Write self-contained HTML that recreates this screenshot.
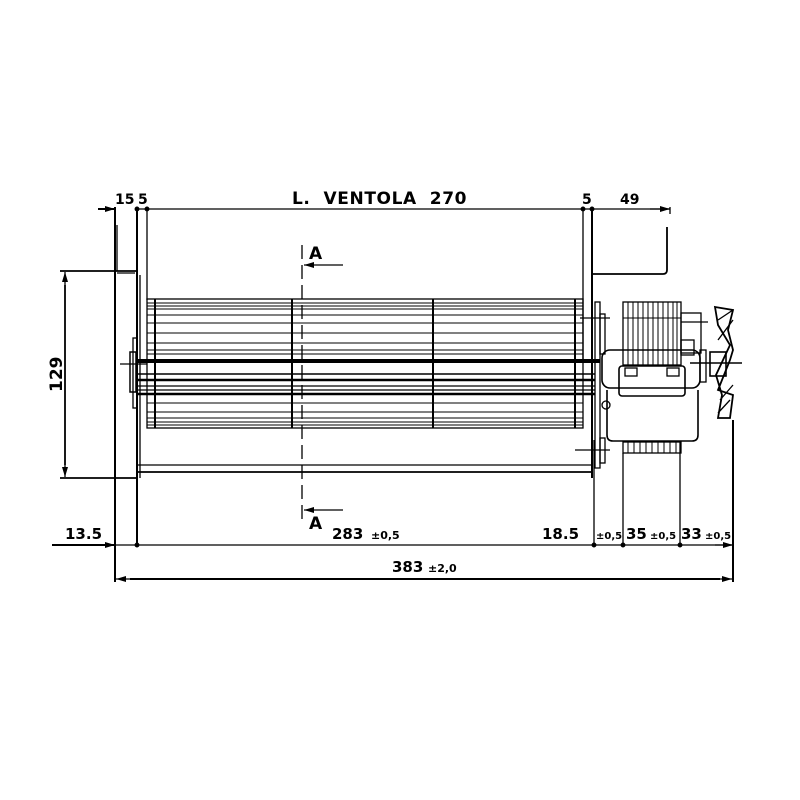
<!DOCTYPE html>
<html><head><meta charset="utf-8"><style>
html,body{margin:0;padding:0;background:#fff}
svg{display:block}
text{font-family:"DejaVu Sans","Liberation Sans",sans-serif;font-weight:bold;fill:#000}
</style></head><body>
<svg width="800" height="800" viewBox="0 0 800 800" xmlns="http://www.w3.org/2000/svg">
<defs>
<marker id="ar" markerWidth="10" markerHeight="6" refX="10" refY="3" orient="auto" markerUnits="userSpaceOnUse"><path d="M0,0 L10,3 L0,6 Z" fill="#000"/></marker>
</defs>
<g stroke="#000" fill="none" stroke-width="1.3">
<line x1="137" y1="209" x2="670" y2="209"/>
<line x1="98" y1="209" x2="115" y2="209" stroke-width="2" marker-end="url(#ar)"/>
<line x1="650" y1="209" x2="670" y2="209" marker-end="url(#ar)"/>
<line x1="670" y1="207" x2="670" y2="214"/>
<line x1="115" y1="207" x2="115" y2="582" stroke-width="2"/>
<line x1="137" y1="207" x2="137" y2="547" stroke-width="2"/>
<line x1="147" y1="209" x2="147" y2="300"/>
<line x1="117" y1="225" x2="117" y2="271"/>
<line x1="60" y1="271" x2="137" y2="271" stroke-width="1.8"/>
<line x1="60" y1="478" x2="137" y2="478" stroke-width="1.8"/>
<line x1="117" y1="273" x2="135" y2="273"/>
<line x1="65" y1="285" x2="65" y2="465" stroke-width="1.8"/>
<line x1="65" y1="285" x2="65" y2="272" marker-end="url(#ar)"/>
<line x1="65" y1="465" x2="65" y2="477" marker-end="url(#ar)"/>
<line x1="140" y1="275" x2="140" y2="478"/>
<line x1="583" y1="209" x2="583" y2="360"/>
<line x1="592" y1="209" x2="592" y2="478" stroke-width="2"/>
<circle cx="583" cy="209" r="1.8" fill="#000"/>
<circle cx="592" cy="209" r="1.8" fill="#000"/>
<circle cx="137" cy="209" r="1.8" fill="#000"/>
<circle cx="147" cy="209" r="1.8" fill="#000"/>
<path d="M592,274 L663,274 Q667,274 667,270 L667,227" stroke-width="1.8"/>
<rect x="147" y="299" width="436" height="129"/>
<g stroke-width="1">
<line x1="147" y1="303" x2="583" y2="303"/><line x1="147" y1="306" x2="583" y2="306"/>
<line x1="147" y1="309" x2="583" y2="309"/><line x1="147" y1="315" x2="583" y2="315"/>
<line x1="147" y1="323" x2="583" y2="323"/><line x1="147" y1="333" x2="583" y2="333"/>
<line x1="147" y1="343" x2="583" y2="343"/><line x1="147" y1="350" x2="583" y2="350"/>
<line x1="147" y1="354" x2="583" y2="354"/>
<line x1="147" y1="403" x2="583" y2="403"/><line x1="147" y1="412" x2="583" y2="412"/>
<line x1="147" y1="418" x2="583" y2="418"/><line x1="147" y1="422" x2="583" y2="422"/>
<line x1="147" y1="425" x2="583" y2="425"/>
</g>
<line x1="137" y1="361" x2="600" y2="361" stroke-width="4"/>
<line x1="137" y1="374" x2="595" y2="374" stroke-width="1.5"/>
<line x1="137" y1="380" x2="595" y2="380" stroke-width="2.5"/>
<line x1="137" y1="386" x2="595" y2="386"/>
<line x1="137" y1="390" x2="595" y2="390"/>
<line x1="137" y1="394" x2="595" y2="394" stroke-width="2.5"/>
<line x1="155" y1="299" x2="155" y2="428" stroke-width="2"/>
<line x1="292" y1="299" x2="292" y2="428" stroke-width="2"/>
<line x1="433" y1="299" x2="433" y2="428" stroke-width="2"/>
<line x1="575" y1="299" x2="575" y2="428" stroke-width="2"/>
<rect x="130" y="352" width="6" height="40" stroke-width="1.5"/>
<rect x="133" y="338" width="4" height="70"/>
<line x1="120" y1="364" x2="147" y2="364"/>
<line x1="137" y1="465" x2="592" y2="465"/>
<line x1="137" y1="472" x2="592" y2="472" stroke-width="1.8"/>
<line x1="302" y1="245" x2="302" y2="525" stroke-dasharray="14,6"/>
<line x1="343" y1="265" x2="304" y2="265" marker-end="url(#ar)"/>
<line x1="343" y1="510" x2="304" y2="510" marker-end="url(#ar)"/>
<rect x="595" y="302" width="5" height="166"/>
<rect x="600" y="314" width="5" height="40"/>
<line x1="580" y1="318" x2="610" y2="318"/>
<line x1="575" y1="450" x2="610" y2="450"/>
<rect x="600" y="438" width="5" height="25"/>
<rect x="623" y="302" width="58" height="63"/>
<g stroke-width="1">
<line x1="628" y1="302" x2="628" y2="365"/><line x1="633" y1="302" x2="633" y2="365"/>
<line x1="638" y1="302" x2="638" y2="365"/><line x1="643" y1="302" x2="643" y2="365"/>
<line x1="648" y1="302" x2="648" y2="365"/><line x1="653" y1="302" x2="653" y2="365"/>
<line x1="658" y1="302" x2="658" y2="365"/><line x1="663" y1="302" x2="663" y2="365"/>
<line x1="668" y1="302" x2="668" y2="365"/><line x1="673" y1="302" x2="673" y2="365"/>
<line x1="677" y1="302" x2="677" y2="365"/>
<line x1="623" y1="318" x2="681" y2="318"/>
</g>
<line x1="681" y1="322" x2="708" y2="322"/>
<rect x="681" y="313" width="20" height="40"/>
<rect x="681" y="340" width="13" height="15"/>
<rect x="602" y="350" width="98" height="38" rx="8" stroke-width="1.6"/>
<rect x="619" y="366" width="66" height="30" rx="3" stroke-width="1.6"/>
<rect x="625" y="368" width="12" height="8"/><rect x="667" y="368" width="12" height="8"/>
<path d="M607,390 L607,435 Q607,441 613,441 L692,441 Q698,441 698,435 L698,390" stroke-width="1.6"/>
<rect x="623" y="442" width="58" height="11"/>
<g stroke-width="1">
<line x1="628" y1="442" x2="628" y2="453"/><line x1="634" y1="442" x2="634" y2="453"/>
<line x1="640" y1="442" x2="640" y2="453"/><line x1="646" y1="442" x2="646" y2="453"/>
<line x1="652" y1="442" x2="652" y2="453"/><line x1="658" y1="442" x2="658" y2="453"/>
<line x1="664" y1="442" x2="664" y2="453"/><line x1="670" y1="442" x2="670" y2="453"/>
<line x1="676" y1="442" x2="676" y2="453"/>
</g>
<circle cx="606" cy="405" r="4"/>
<rect x="700" y="350" width="6" height="32"/>
<path d="M715,307 L733,310 L728,330 L733,350 L730,360 L718,390 L733,395 L730,418 L718,418 L722,395 L716,375 L730,345 L718,325 Z" stroke-width="1.8"/>
<line x1="718" y1="320" x2="733" y2="310"/><line x1="718" y1="340" x2="733" y2="320"/>
<line x1="720" y1="400" x2="733" y2="385"/><line x1="718" y1="413" x2="730" y2="400"/>
<rect x="710" y="352" width="16" height="24" stroke-width="1.6"/>
<line x1="690" y1="363" x2="742" y2="363" stroke-width="1.5"/>
<line x1="594" y1="440" x2="594" y2="545"/>
<line x1="623" y1="453" x2="623" y2="545"/>
<line x1="680" y1="442" x2="680" y2="545"/>
<line x1="733" y1="420" x2="733" y2="582" stroke-width="2"/>
<line x1="115" y1="545" x2="733" y2="545"/>
<line x1="52" y1="545" x2="115" y2="545" stroke-width="2" marker-end="url(#ar)"/>
<line x1="715" y1="545" x2="733" y2="545" marker-end="url(#ar)"/>
<circle cx="137" cy="545" r="1.8" fill="#000"/>
<circle cx="594" cy="545" r="1.8" fill="#000"/>
<circle cx="623" cy="545" r="1.8" fill="#000"/>
<circle cx="680" cy="545" r="1.8" fill="#000"/>
<line x1="130" y1="579" x2="720" y2="579" stroke-width="2"/>
<line x1="135" y1="579" x2="116" y2="579" marker-end="url(#ar)"/>
<line x1="715" y1="579" x2="732" y2="579" marker-end="url(#ar)"/>
</g>
<text x="115" y="204" font-size="14">15</text>
<text x="138" y="204" font-size="14">5</text>
<text x="292" y="204" font-size="17" letter-spacing="0.6" xml:space="preserve">L.  VENTOLA  270</text>
<text x="582" y="204" font-size="14">5</text>
<text x="620" y="204" font-size="14">49</text>
<text x="309" y="259" font-size="17">A</text>
<text x="309" y="529" font-size="17">A</text>
<text x="0" y="0" font-size="17" transform="translate(62,392) rotate(-90)">129</text>
<text x="65" y="539" font-size="15">13.5</text>
<text x="332" y="539" font-size="15">283</text>
<text x="371" y="539" font-size="11">±0,5</text>
<text x="542" y="539" font-size="15">18.5</text>
<text x="596" y="539" font-size="10">±0,5</text>
<text x="626" y="539" font-size="15">35</text>
<text x="650" y="539" font-size="10">±0,5</text>
<text x="681" y="539" font-size="15">33</text>
<text x="705" y="539" font-size="10">±0,5</text>
<text x="392" y="572" font-size="15">383</text>
<text x="428" y="572" font-size="11">±2,0</text>
</svg>
</body></html>
